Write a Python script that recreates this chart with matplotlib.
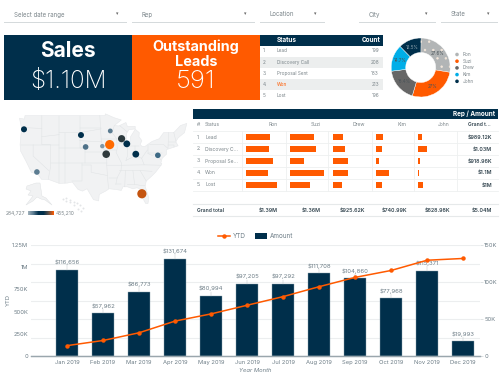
import numpy as np
import matplotlib
matplotlib.use("Agg")
import matplotlib.pyplot as plt
from matplotlib.patches import Rectangle, Circle, Wedge, Polygon
from matplotlib.colors import LinearSegmentedColormap

# --- colours ---
NAVY = "#002f4b"
ORANGE = "#ff5a00"
GREY = "#b2b5b6"
SLATE = "#666666"
SKY = "#00aee8"
TXT = "#6f7f88"

plt.rcParams["font.family"] = ["Inter", "DejaVu Sans"]
plt.rcParams["hatch.linewidth"] = 0.5

# --- data ---
filters = ["Select date range", "Rep", "Location", "City", "State"]
status = ["Lead", "Discovery Call", "Proposal Sent", "Won", "Lost"]
status_short = ["Lead", "Discovery C...", "Proposal Se...", "Won", "Lost"]
counts = [199, 208, 183, 213, 196]

reps = ["Ron", "Suzi", "Drew", "Kim", "John"]
share = [27.6, 27.0, 18.4, 14.7, 12.5]
share_txt = ["27.6%", "27%", "18.4%", "14.7%", "12.5%"]
rep_colors = [GREY, ORANGE, SLATE, SKY, NAVY]

ron = [282, 270, 318, 259, 365]
suzi = [282, 306, 165, 400, 235]
drew = [118, 141, 176, 176, 106]
kim = [82, 71, 35, 153, 71]
john = [47, 106, 24, 12, 59]
row_totals = ["$989.12K", "$1.03M", "$918.96K", "$1.1M", "$1M"]
rep_totals = ["$1.39M", "$1.36M", "$925.62K", "$740.99K", "$628.98K", "$5.04M"]

months = ["Jan 2019", "Feb 2019", "Mar 2019", "Apr 2019", "May 2019", "Jun 2019",
          "Jul 2019", "Aug 2019", "Sep 2019", "Oct 2019", "Nov 2019", "Dec 2019"]
amount = [116656, 57962, 86773, 131674, 80994, 97205, 97292, 111708, 104860, 77968, 115371, 19993]
ytd = [116656, 174618, 261391, 393065, 474059, 571264, 668556, 780264, 885124, 963092, 1078463, 1098456]

# lower 48 outline, lon / lat
usa_lon = [-124.7, -123.0, -122.8, -117.0, -104.0, -95.2, -95.1, -92.0, -89.6, -92.0, -90.5, -88.0, -87.5, -84.8, -84.8,
           -87.0, -87.8, -87.9, -87.5, -86.5, -86.4, -85.5, -84.8, -83.4, -83.5, -82.5, -83.1, -82.5, -81.5,
           -79.0, -76.5, -75.0, -71.5, -69.2, -67.0, -67.8, -70.0, -70.8, -70.0, -72.0, -74.0, -74.0, -75.5, -76.0, -75.6,
           -75.9, -77.8, -79.0, -81.0, -81.4, -80.1, -80.4, -81.2, -82.6, -82.8, -84.2, -85.6, -87.5, -89.0, -89.6, -91.5,
           -93.8, -95.0, -97.2, -97.4, -99.2, -101.4, -103.0, -104.5, -106.5, -108.2, -111.0, -114.8, -117.1, -118.4,
           -120.6, -122.4, -124.3, -124.5, -124.0, -124.7]
usa_lat = [48.4, 48.2, 49.0, 49.0, 49.0, 49.0, 49.4, 48.5, 48.0, 46.7, 46.6, 47.4, 46.5, 46.5, 45.9,
           45.7, 44.8, 43.0, 41.7, 42.0, 44.0, 45.0, 45.8, 45.0, 44.0, 43.0, 42.0, 41.6, 41.5,
           42.8, 43.5, 45.0, 45.0, 46.7, 47.2, 45.0, 43.7, 42.7, 41.7, 41.2, 40.7, 39.5, 38.4, 37.0, 37.0,
           36.5, 34.5, 33.5, 32.0, 30.5, 27.0, 25.2, 25.2, 27.5, 29.5, 30.0, 29.7, 30.3, 30.3, 29.2, 29.5,
           29.7, 29.0, 28.0, 26.0, 26.4, 29.7, 29.0, 29.5, 31.7, 31.4, 31.3, 32.5, 32.5, 34.0,
           34.5, 37.5, 40.3, 42.0, 46.0, 48.4]

# some state borders as (lon, lat) runs
state_lines = [
    [(-117, 49), (-117, 42), (-114, 42), (-114, 36), (-114.8, 32.5)],
    [(-124.3, 42), (-111, 42), (-111, 45), (-111, 49)],
    [(-120, 42), (-120, 39), (-114.6, 35)],
    [(-123, 46.2), (-117, 46)],
    [(-117, 44), (-111, 44.5)],
    [(-111, 42), (-111, 31.3)],
    [(-109, 45), (-109, 31.4)],
    [(-114, 37), (-94.6, 37)],
    [(-111, 45), (-104, 45), (-96.5, 45.9)],
    [(-104, 49), (-104, 41), (-102, 41), (-102, 37)],
    [(-111, 41), (-102, 41)],
    [(-104, 43), (-96.5, 42.7)],
    [(-104, 46), (-96.6, 46)],
    [(-97, 49), (-96.5, 43), (-95.3, 40), (-94.6, 39), (-94.6, 36.5), (-94.4, 33.6), (-94, 29.8)],
    [(-102, 40), (-95.3, 40)],
    [(-103, 37), (-103, 32), (-106.5, 32)],
    [(-100, 36.5), (-100, 34.5), (-94.4, 33.6)],
    [(-103, 36.5), (-100, 36.5)],
    [(-96.5, 43.5), (-91.2, 43.5)],
    [(-92, 46.7), (-92.8, 45), (-91.2, 43.5), (-91, 41), (-91.4, 40), (-89.5, 37), (-89.7, 35), (-91, 33), (-91.5, 31)],
    [(-95.7, 40.6), (-91.4, 40.6)],
    [(-94.6, 36.5), (-89.7, 36.5), (-81.7, 36.6), (-75.9, 36.5)],
    [(-94, 33), (-91, 33)],
    [(-91.5, 31), (-89.7, 31)],
    [(-90.2, 35), (-83.1, 35), (-79, 34.8)],
    [(-88.2, 35), (-88.4, 30.3)],
    [(-85.6, 35), (-85, 31), (-87.5, 31)],
    [(-85, 31), (-82, 30.6), (-81.4, 30.7)],
    [(-83.1, 35), (-81, 32)],
    [(-87.6, 42.5), (-90.6, 42.5)],
    [(-87.5, 41.7), (-87.5, 39), (-88, 37.8)],
    [(-84.8, 41.7), (-84.8, 39.1)],
    [(-87.5, 41.7), (-83.5, 41.7)],
    [(-88, 37.8), (-84.8, 39.1), (-82.6, 38.4), (-80.6, 40.6)],
    [(-82.6, 38.4), (-81.7, 36.6)],
    [(-80.5, 42), (-80.5, 39.7), (-75.7, 39.7)],
    [(-79.8, 42), (-75, 42), (-73.5, 41), (-73.3, 45)],
    [(-71.5, 45), (-70.8, 43)],
    [(-73.3, 42.7), (-70.9, 42.7)],
    [(-73.5, 42), (-71.5, 42), (-71.5, 41.3)],
    [(-90, 46.6), (-87.6, 45.2)],
    [(-80.5, 39.7), (-79, 39.2), (-77.5, 39.5), (-76, 38)],
]

# Alaska and Hawaii are insets, page pixels
alaska_x = [27, 36, 40, 42, 46, 52, 45, 41, 37, 33, 26, 33, 28, 31, 26]
alaska_y = [186, 183, 183, 196, 198, 205, 200, 199, 197, 201, 205, 196, 195, 191, 189]
hawaii_x = [63, 66, 70, 74, 77, 80, 83, 81, 78, 74, 70, 66]
hawaii_y = [199, 198, 200, 202, 203, 205, 208, 211, 209, 205, 202, 201]

# bubbles: lon, lat, size, colour
city_lon = [-123.15, -103.5, -101.9, -93.4, -96.15, -93.6, -89.5, -87.7, -94.8, -84.6, -77.0, -118.7, -82.5]
city_lat = [45.8, 44.4, 41.4, 45.4, 41.6, 42.0, 43.5, 42.2, 39.5, 39.5, 39.2, 34.6, 28.2]
city_r = [3.0, 3.0, 2.8, 2.4, 2.2, 4.6, 3.6, 3.4, 3.8, 3.4, 2.8, 2.8, 4.6]
city_c = ["#002f4b", "#002f4b", "#4f7289", "#5c7c91", "#7f98a8", "#ff6a00", "#2c3a3e", "#002f4b",
          "#2f3a3c", "#002f4b", "#3e6a85", "#5c7c91", "#c4540f"]

# --- figure ---
fig = plt.figure(figsize=(5, 3.85), dpi=100)
ax = fig.add_axes([0, 0, 1, 1])
ax.set_xlim(0, 500)
ax.set_ylim(385, 0)
ax.axis("off")


def mercator(lon, lat):
    # fitted on the corners of the map in the picture
    m = np.degrees(np.log(np.tan(np.radians(45 + np.array(lat) / 2))))
    return 19.5 + 2.9 * (np.array(lon) + 124.7), 115 + 2.9 * (56.57 - m)


# filters
filter_x = [(4, 127), (132, 255), (260, 325), (359, 436), (441, 498)]
for name, (x0, x1) in zip(filters, filter_x):
    ax.add_patch(Rectangle((x0, 21.5), x1 - x0, 1.5, fc="#d5dadc", ec="none"))
    ax.text(x0 + 10, 14.5, name, fontsize=4.4, color="#7b858a", va="center")
    ax.text(x1 - 10, 14, "\u25be", fontsize=3.5, color="#666666", va="center", ha="center", family="DejaVu Sans")

# big number cards
ax.add_patch(Rectangle((4, 35), 128, 65, fc=NAVY, ec="none"))
ax.add_patch(Rectangle((132, 35), 128, 65, fc=ORANGE, ec="none"))
ax.text(68, 51, "Sales", color="white", fontsize=15, fontweight="bold", ha="center", va="center")
ax.text(68, 82, "$1.10M", color="white", fontsize=17.5, fontweight="light", ha="center", va="center")
ax.text(196, 47, "Outstanding", color="white", fontsize=10.4, fontweight="bold", ha="center", va="center")
ax.text(196, 62.5, "Leads", color="white", fontsize=10.4, fontweight="bold", ha="center", va="center")
ax.text(196, 82, "591", color="white", fontsize=18.5, fontweight="light", ha="center", va="center")

# status table
ax.add_patch(Rectangle((260, 35), 123, 10.5, fc=NAVY, ec="none"))
ax.text(277, 40, "Status", color="white", fontsize=4.6, fontweight="bold", va="center")
ax.text(380, 40, "Count", color="white", fontsize=4.6, fontweight="bold", va="center", ha="right")
for i, (s, n) in enumerate(zip(status, counts)):
    y0 = 45.5 + i * 11.1
    if i % 2 == 1:
        ax.add_patch(Rectangle((260, y0), 123, 11.1, fc="#eceeee", ec="none"))
    col = ORANGE if s == "Won" else "#7b858a"
    ax.text(263, y0 + 5.5, f"{i + 1}.", fontsize=3.4, color="#7b858a", va="center")
    ax.text(277, y0 + 5.5, s, fontsize=3.4, color=col, va="center")
    ax.text(379, y0 + 5.5, str(n), fontsize=3.4, color="#7b858a", va="center", ha="right")

# donut, clockwise from the top
cx, cy = 420.7, 67.5
start = 90.0
for i, (v, c) in enumerate(zip(share, rep_colors)):
    sweep = v * 3.6
    ax.add_patch(Wedge((cx, cy), 29.5, -start, -start + sweep, width=14.5, fc=c, ec="white", lw=0.3))
    mid = np.radians(start - sweep / 2)
    ax.text(cx + 22 * np.cos(mid), cy - 22 * np.sin(mid), share_txt[i], fontsize=3.2,
            color="#4a5358" if i != 4 else "#8fa3ae", ha="center", va="center")
    start -= sweep
# dotted look of the Ron slice
ax.add_patch(Wedge((cx, cy), 29.5, -90, -90 + share[0] * 3.6, width=14.5, fc="none", ec="#f3e6da", lw=0, hatch=".."))
for i, (r, c) in enumerate(zip(reps, rep_colors)):
    ly = 54.5 + i * 6.7
    ax.add_patch(Circle((457, ly), 1.8, fc=c, ec="none"))
    ax.text(463, ly, r, fontsize=3.4, color="#7b858a", va="center")

# map
ux, uy = mercator(usa_lon, usa_lat)
ax.add_patch(Polygon(np.column_stack([ux, uy]), fc="#f1f2f3", ec="#e6e8ea", lw=0.4))
for line in state_lines:
    lx, ly = mercator([p[0] for p in line], [p[1] for p in line])
    ax.plot(lx, ly, color="#dfe2e4", lw=0.35)
ax.add_patch(Polygon(np.column_stack([alaska_x, alaska_y]), fc="#f1f2f3", ec="#dcdfe1", lw=0.3))
ax.scatter(hawaii_x, hawaii_y, s=2, color="#e3e5e7", lw=0)
bx, by = mercator(city_lon, city_lat)
for x, y, r, c in zip(bx, by, city_r, city_c):
    ax.add_patch(Circle((x, y), r, fc=c, ec="none", zorder=3))
ax.text(6, 213, "284,727", fontsize=3.6, color="#7b858a", va="center")
ax.text(56, 213, "455,210", fontsize=3.6, color="#7b858a", va="center")
cmap = LinearSegmentedColormap.from_list("m", ["#9fb0ba", "#5c7c91", NAVY, NAVY, "#5f5048", ORANGE])
ax.imshow(np.linspace(0, 1, 64).reshape(1, -1), cmap=cmap, extent=(28, 54, 215, 211), aspect="auto", zorder=2)
ax.set_xlim(0, 500)
ax.set_ylim(385, 0)

# pivot table
ax.add_patch(Rectangle((193, 109), 305, 10, fc=NAVY, ec="none"))
ax.text(495, 114, "Rep / Amount", color="white", fontsize=4.6, fontweight="bold", ha="right", va="center")
ax.text(197, 125, "#.", fontsize=3.6, color="#7b858a", va="center")
ax.text(205, 125, "Status", fontsize=3.6, color="#7b858a", va="center")
col_right = [278, 321, 365, 407, 450]
for r, x in zip(reps, col_right):
    ax.text(x, 125, r, fontsize=3.6, color="#7b858a", ha="right", va="center")
ax.text(491, 125, "Grand t...", fontsize=3.6, color="#33454f", fontweight="semibold", ha="right", va="center")
row_y = [137.2, 149, 161, 172.8, 185]
for i, y in enumerate(row_y):
    ax.text(197, y, f"{i + 1}.", fontsize=3.6, color="#7b858a", va="center")
    ax.text(205, y, status_short[i], fontsize=3.6, color="#7b858a", va="center")
    ax.text(492, y, row_totals[i], fontsize=3.8, color="#33454f", fontweight="semibold", ha="right", va="center")
    ax.plot([193, 498], [y + 6, y + 6], color="#eef0f0", lw=0.6)
ax.plot([193, 498], [131, 131], color="#eef0f0", lw=0.6)
for x in [242, 286, 328, 372, 414, 457]:
    ax.plot([x, x], [131, 191], color="#eef0f0", lw=0.6)

bar_x = [246, 290, 333, 376, 418]
for vals, x0 in zip([ron, suzi, drew, kim, john], bar_x):
    a = fig.add_axes([x0 / 500, 1 - 191 / 385, 38 / 500, 60 / 385])
    a.barh(range(5), vals, height=0.42, color=ORANGE)
    a.set_xlim(0, 447)
    a.set_ylim(4.5, -0.5)
    a.axis("off")

for y in [204, 216]:
    ax.plot([193, 498], [y, y], color="#e6e9ea", lw=0.8)
ax.text(197, 210, "Grand total", fontsize=3.6, color="#33454f", fontweight="semibold", va="center")
for t, x in zip(rep_totals, col_right + [492]):
    ax.text(x, 210, t, fontsize=3.8, color="#33454f", fontweight="semibold", ha="right", va="center")

# bottom combo chart
left = fig.add_axes([31 / 500, 1 - 356 / 385, 449 / 500, 111 / 385])
right = left.twinx()
x = np.arange(12)
right.bar(x, amount, width=0.61, color=NAVY, edgecolor="#8aa0ad", lw=0.3, zorder=2)
left.plot(x, ytd, color=ORANGE, lw=1.1, marker="o", ms=2.2, zorder=5)
left.set_zorder(right.get_zorder() + 1)
left.patch.set_visible(False)

left.set_xlim(-1, 11.47)
left.set_ylim(0, 1250000)
right.set_ylim(0, 150000)
left.set_yticks([0, 250000, 500000, 750000, 1000000, 1250000], ["0", "250K", "500K", "750K", "1M", "1.25M"])
right.set_yticks([0, 50000, 100000, 150000], ["0", "50K", "100K", "150K"])
right.set_yticks([25000, 75000, 125000], minor=True)
left.set_xticks(x, months)
left.tick_params(axis="y", length=0, labelsize=4.2, labelcolor=TXT, pad=2)
left.tick_params(axis="x", length=0, labelsize=4.2, labelcolor=TXT, pad=3)
right.tick_params(axis="y", which="major", length=2, width=0.4, color="#c5cbce", labelsize=4.2, labelcolor=TXT, pad=1)
right.tick_params(axis="y", which="minor", length=0)
right.grid(axis="y", which="both", color="#eceeef", lw=0.8, zorder=0)
right.set_axisbelow(True)
for a in (left, right):
    for s in ("top", "left", "right"):
        a.spines[s].set_visible(False)
    a.spines["bottom"].set_color("#9aa6ad")
    a.spines["bottom"].set_linewidth(0.9)
left.set_ylabel("YTD", fontsize=4.2, color=TXT, labelpad=1)
left.set_xlabel("Year Month", fontsize=4.2, color=TXT, labelpad=2, fontstyle="italic")

for i, v in enumerate(amount):
    right.plot([i, i], [v, v + 6000], color="#b8c0c4", lw=0.3, zorder=3)
    right.text(i, v + 6200, f"${v:,}", fontsize=4.3, color=TXT, ha="center", va="bottom", zorder=6)

# legend by hand, the library one would not sit this tight
ax.plot([218, 230], [236, 236], color=ORANGE, lw=1.1, zorder=6)
ax.plot([224], [236], color=ORANGE, marker="o", ms=2.2, zorder=6)
ax.text(232.5, 236, "YTD", fontsize=4.6, color=TXT, va="center")
ax.add_patch(Rectangle((254.5, 233), 12.5, 6, fc=NAVY, ec="none"))
ax.text(270, 236, "Amount", fontsize=4.6, color=TXT, va="center")

fig.savefig("out.png", dpi=100)
